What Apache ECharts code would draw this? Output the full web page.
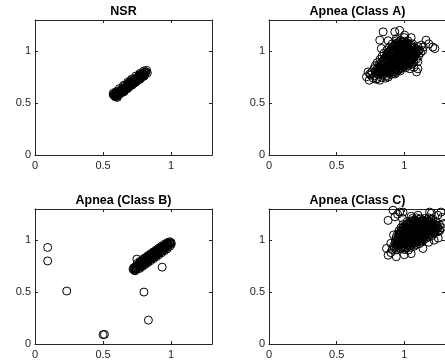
<!DOCTYPE html>
<html>
<head>
<meta charset="utf-8">
<title>Scatter panels</title>
<script src="https://cdn.jsdelivr.net/npm/echarts@6/dist/echarts.min.js"></script>
<style>html,body{margin:0;padding:0;background:#fff}#chart{width:445px;height:360px}</style>
</head>
<body>
<div id="chart"></div>
<script>
// 面板标题
const panelTitles = ["NSR", "Apnea (Class A)", "Apnea (Class B)", "Apnea (Class C)"];
// 刻度
const tickValues = [0, 0.5, 1];
const axisMin = 0;
const axisMax = 1.3;

// NSR：对角窄带
const nsrPoints = [
  [0.58,0.575],[0.585,0.57],[0.59,0.585],[0.595,0.578],[0.60,0.59],[0.60,0.575],[0.605,0.60],
  [0.61,0.588],[0.615,0.60],[0.62,0.61],[0.62,0.595],[0.625,0.605],[0.63,0.62],[0.635,0.61],
  [0.64,0.625],[0.645,0.615],[0.65,0.635],[0.655,0.625],[0.66,0.645],[0.665,0.632],[0.67,0.65],
  [0.675,0.66],[0.68,0.645],[0.685,0.665],[0.69,0.675],[0.695,0.66],[0.70,0.68],[0.705,0.69],
  [0.71,0.675],[0.715,0.695],[0.72,0.705],[0.725,0.69],[0.73,0.71],[0.735,0.72],[0.74,0.705],
  [0.745,0.725],[0.75,0.735],[0.755,0.72],[0.76,0.74],[0.765,0.75],[0.77,0.735],[0.775,0.755],
  [0.78,0.765],[0.79,0.755],[0.795,0.775],[0.80,0.78],[0.81,0.79],[0.815,0.80],[0.66,0.67],
  [0.70,0.715],[0.59,0.60],[0.575,0.58],[0.60,0.565],[0.61,0.575],[0.64,0.64],[0.68,0.68],
  [0.72,0.72],[0.76,0.755],[0.79,0.79],[0.65,0.62],[0.69,0.66],[0.73,0.695],
  // 带宽边缘
  [0.59,0.56],[0.595,0.61],[0.62,0.585],[0.62,0.64],[0.65,0.612],[0.65,0.67],[0.68,0.64],
  [0.68,0.70],[0.71,0.67],[0.71,0.73],[0.74,0.70],[0.74,0.76],[0.77,0.728],[0.77,0.785],
  [0.80,0.758],[0.80,0.81],[0.82,0.815],[0.825,0.79],[0.575,0.595],[0.605,0.555],
  // 中部加密
  [0.605,0.585],[0.615,0.59],[0.625,0.622],[0.635,0.598],[0.645,0.64],[0.655,0.61],
  [0.665,0.655],[0.675,0.64],[0.685,0.69],[0.695,0.672],[0.705,0.705],[0.715,0.682],
  [0.725,0.718],[0.735,0.705],[0.745,0.745],[0.755,0.735],[0.765,0.77],[0.775,0.742],
  [0.785,0.778],[0.785,0.755],[0.805,0.795],[0.805,0.77]
];

// Class A：核心团块 + 外围散点
const classAPoints = [
  [0.77,0.74],[0.80,0.735],[0.83,0.745],[0.86,0.74],[0.88,0.75],
  [0.75,0.77],[0.78,0.765],[0.81,0.775],[0.84,0.77],[0.87,0.765],[0.90,0.775],[0.93,0.78],
  [0.76,0.80],[0.79,0.805],[0.82,0.795],[0.85,0.80],[0.88,0.805],[0.91,0.80],[0.94,0.795],[0.97,0.81],
  [0.775,0.83],[0.80,0.835],[0.83,0.825],[0.86,0.83],[0.89,0.835],[0.92,0.83],[0.95,0.825],[0.98,0.835],[1.01,0.84],
  [0.785,0.86],[0.81,0.865],[0.84,0.855],[0.87,0.86],[0.90,0.865],[0.93,0.86],[0.96,0.855],[0.99,0.865],[1.02,0.86],[1.045,0.87],
  [0.80,0.89],[0.83,0.895],[0.86,0.885],[0.89,0.89],[0.92,0.895],[0.95,0.89],[0.98,0.885],[1.01,0.895],[1.04,0.89],[1.07,0.895],
  [0.82,0.92],[0.85,0.925],[0.88,0.915],[0.91,0.92],[0.94,0.925],[0.97,0.92],[1.00,0.915],[1.03,0.925],[1.06,0.92],[1.09,0.925],
  [0.835,0.95],[0.865,0.955],[0.895,0.945],[0.925,0.95],[0.955,0.955],[0.985,0.95],[1.015,0.945],[1.045,0.955],[1.075,0.95],[1.105,0.955],
  [0.85,0.98],[0.88,0.985],[0.91,0.975],[0.94,0.98],[0.97,0.985],[1.00,0.98],[1.03,0.975],[1.06,0.985],[1.09,0.98],[1.12,0.985],
  [0.87,1.01],[0.90,1.015],[0.93,1.005],[0.96,1.01],[0.99,1.015],[1.02,1.01],[1.05,1.005],[1.08,1.015],[1.11,1.01],[1.135,1.005],
  [0.89,1.04],[0.92,1.045],[0.95,1.035],[0.98,1.04],[1.01,1.045],[1.04,1.04],[1.07,1.035],[1.10,1.045],
  [0.91,1.07],[0.94,1.075],[0.97,1.065],[1.00,1.07],[1.03,1.075],[1.06,1.07],
  [0.94,1.10],[0.97,1.105],[1.00,1.095],[1.025,1.10],
  [0.795,0.785],[0.825,0.79],[0.855,0.785],[0.885,0.79],[0.915,0.785],
  [0.805,0.815],[0.835,0.82],[0.865,0.81],[0.895,0.815],[0.925,0.82],[0.955,0.815],
  [0.815,0.845],[0.845,0.85],[0.875,0.84],[0.905,0.845],[0.935,0.85],[0.965,0.845],[0.995,0.85],
  [0.825,0.875],[0.855,0.88],[0.885,0.87],[0.915,0.875],[0.945,0.88],[0.975,0.875],[1.005,0.87],[1.035,0.88],
  [0.845,0.905],[0.875,0.91],[0.905,0.90],[0.935,0.905],[0.965,0.91],[0.995,0.905],[1.025,0.90],[1.055,0.91],
  [0.86,0.935],[0.89,0.94],[0.92,0.93],[0.95,0.935],[0.98,0.94],[1.01,0.935],[1.04,0.93],[1.07,0.94],
  [0.875,0.965],[0.905,0.97],[0.935,0.96],[0.965,0.965],[0.995,0.97],[1.025,0.965],[1.055,0.96],[1.085,0.97],
  [0.89,0.995],[0.92,1.0],[0.95,0.99],[0.98,0.995],[1.01,1.0],[1.04,0.995],[1.07,0.99],[1.10,1.0],
  [0.91,1.025],[0.94,1.03],[0.97,1.02],[1.0,1.025],[1.03,1.03],[1.06,1.025],[1.09,1.02],
  [0.93,1.055],[0.96,1.06],[0.99,1.05],[1.02,1.055],[1.05,1.06],
  [0.955,1.085],[0.985,1.09],[1.015,1.08],
  // 核心加密
  [0.805,0.80],[0.835,0.80],[0.865,0.805],[0.895,0.80],[0.925,0.80],
  [0.815,0.83],[0.845,0.83],[0.875,0.835],[0.905,0.83],[0.935,0.83],[0.965,0.83],
  [0.825,0.86],[0.855,0.86],[0.885,0.865],[0.915,0.86],[0.945,0.86],[0.975,0.86],[1.005,0.865],
  [0.845,0.89],[0.875,0.89],[0.905,0.895],[0.935,0.89],[0.965,0.89],[0.995,0.89],[1.025,0.89],
  [0.865,0.92],[0.895,0.92],[0.925,0.925],[0.955,0.92],[0.985,0.92],[1.015,0.92],[1.045,0.92],
  [0.88,0.95],[0.91,0.95],[0.94,0.955],[0.97,0.95],[1.0,0.95],[1.03,0.95],[1.06,0.95],
  [0.895,0.98],[0.925,0.98],[0.955,0.985],[0.985,0.98],[1.015,0.98],[1.045,0.98],[1.075,0.98],
  [0.915,1.01],[0.945,1.01],[0.975,1.015],[1.005,1.01],[1.035,1.01],[1.065,1.01],
  [0.935,1.04],[0.965,1.04],[0.995,1.045],[1.025,1.04],[1.055,1.04],
  [0.955,1.07],[0.985,1.07],[1.015,1.07],
  // 外围
  [0.843,1.186],[0.818,1.106],[0.929,1.186],[0.965,1.20],[1.002,1.154],[0.94,1.12],[1.16,1.106],
  [1.21,1.04],[1.225,1.025],[1.125,1.058],[0.83,1.026],[0.732,0.80],[0.72,0.753],[0.74,0.72],
  [0.818,0.72],[1.04,0.83],[1.09,0.80],[1.06,0.88],[1.10,0.90],[1.07,0.845],[1.10,0.83],
  [0.88,1.10],[1.05,1.13],[1.0,1.13],[1.18,1.07],[1.14,1.04],[0.79,0.73],[0.745,0.78]
];

// Class B：主带 + 离群点
const classBPoints = [
  [0.73,0.725],[0.73,0.71],[0.74,0.73],[0.74,0.745],[0.74,0.715],[0.75,0.74],[0.75,0.725],
  [0.76,0.75],[0.76,0.765],[0.76,0.735],[0.77,0.76],[0.77,0.745],[0.77,0.78],
  [0.78,0.775],[0.78,0.755],[0.78,0.79],[0.79,0.78],[0.79,0.765],[0.79,0.80],
  [0.80,0.79],[0.80,0.775],[0.80,0.81],[0.81,0.80],[0.81,0.785],[0.81,0.82],
  [0.82,0.81],[0.82,0.79],[0.82,0.83],[0.83,0.82],[0.83,0.80],[0.83,0.84],
  [0.84,0.83],[0.84,0.81],[0.84,0.845],[0.85,0.835],[0.85,0.82],[0.85,0.855],
  [0.86,0.845],[0.86,0.83],[0.86,0.865],[0.87,0.855],[0.87,0.84],[0.87,0.875],
  [0.88,0.865],[0.88,0.85],[0.88,0.885],[0.89,0.875],[0.89,0.86],[0.89,0.89],
  [0.90,0.885],[0.90,0.87],[0.90,0.90],[0.91,0.89],[0.91,0.875],[0.91,0.91],
  [0.92,0.90],[0.92,0.885],[0.92,0.92],[0.93,0.91],[0.93,0.895],[0.93,0.93],
  [0.94,0.92],[0.94,0.905],[0.94,0.935],[0.95,0.93],[0.95,0.915],[0.95,0.945],
  [0.96,0.94],[0.96,0.925],[0.96,0.955],[0.97,0.945],[0.97,0.96],[0.98,0.955],[0.98,0.97],
  [0.99,0.965],[0.99,0.975],[1.00,0.975],
  [0.72,0.72],[0.725,0.735],[0.735,0.705],[0.748,0.817],
  // 带宽边缘
  [0.75,0.775],[0.77,0.795],[0.77,0.728],[0.79,0.815],[0.79,0.748],[0.81,0.832],[0.81,0.766],
  [0.83,0.852],[0.83,0.785],[0.85,0.87],[0.85,0.803],[0.87,0.888],[0.87,0.822],[0.89,0.905],
  [0.89,0.84],[0.91,0.925],[0.91,0.86],[0.93,0.943],[0.93,0.878],[0.95,0.96],[0.95,0.897],
  [0.97,0.975],[0.97,0.915],[0.99,0.985],[0.99,0.94],[1.0,0.96],
  // 离群点
  [0.093,0.93],[0.093,0.80],[0.233,0.51],[0.50,0.09],[0.51,0.092],[0.80,0.50],[0.833,0.23],[0.934,0.74]
];

// Class C：右上团块 + 外围散点
const classCPoints = [
  [0.91,0.91],[0.94,0.905],[0.97,0.915],[1.00,0.91],[1.03,0.905],
  [0.92,0.94],[0.95,0.945],[0.98,0.935],[1.01,0.94],[1.04,0.945],[1.07,0.94],
  [0.93,0.97],[0.96,0.975],[0.99,0.965],[1.02,0.97],[1.05,0.975],[1.08,0.97],[1.11,0.965],
  [0.935,1.0],[0.965,1.005],[0.995,0.995],[1.025,1.0],[1.055,1.005],[1.085,1.0],[1.115,0.995],[1.145,1.005],
  [0.94,1.03],[0.97,1.035],[1.0,1.025],[1.03,1.03],[1.06,1.035],[1.09,1.03],[1.12,1.025],[1.15,1.035],[1.18,1.03],
  [0.95,1.06],[0.98,1.065],[1.01,1.055],[1.04,1.06],[1.07,1.065],[1.10,1.06],[1.13,1.055],[1.16,1.065],[1.19,1.06],[1.22,1.065],
  [0.96,1.09],[0.99,1.095],[1.02,1.085],[1.05,1.09],[1.08,1.095],[1.11,1.09],[1.14,1.085],[1.17,1.095],[1.20,1.09],[1.23,1.085],[1.26,1.09],
  [0.975,1.12],[1.005,1.125],[1.035,1.115],[1.065,1.12],[1.095,1.125],[1.125,1.12],[1.155,1.115],[1.185,1.125],[1.215,1.12],[1.245,1.115],[1.275,1.12],
  [0.99,1.15],[1.02,1.155],[1.05,1.145],[1.08,1.15],[1.11,1.155],[1.14,1.15],[1.17,1.145],[1.20,1.155],[1.23,1.15],[1.26,1.145],
  [1.02,1.18],[1.05,1.185],[1.08,1.175],[1.11,1.18],[1.14,1.185],[1.17,1.18],[1.20,1.175],[1.23,1.18],
  [1.06,1.21],[1.09,1.215],[1.12,1.205],[1.15,1.21],[1.18,1.215],[1.21,1.205],
  [0.925,0.925],[0.955,0.93],[0.985,0.92],[1.015,0.925],[1.045,0.93],
  [0.935,0.955],[0.965,0.96],[0.995,0.95],[1.025,0.955],[1.055,0.96],[1.085,0.955],
  [0.945,0.985],[0.975,0.99],[1.005,0.98],[1.035,0.985],[1.065,0.99],[1.095,0.985],[1.125,0.98],
  [0.95,1.015],[0.98,1.02],[1.01,1.01],[1.04,1.015],[1.07,1.02],[1.10,1.015],[1.13,1.01],[1.16,1.02],
  [0.965,1.045],[0.995,1.05],[1.025,1.04],[1.055,1.045],[1.085,1.05],[1.115,1.045],[1.145,1.04],[1.175,1.05],[1.205,1.045],
  [0.975,1.075],[1.005,1.08],[1.035,1.07],[1.065,1.075],[1.095,1.08],[1.125,1.075],[1.155,1.07],[1.185,1.08],[1.215,1.075],[1.245,1.08],
  [0.99,1.105],[1.02,1.11],[1.05,1.10],[1.08,1.105],[1.11,1.11],[1.14,1.105],[1.17,1.10],[1.20,1.11],[1.23,1.105],[1.26,1.10],
  [1.005,1.135],[1.035,1.14],[1.065,1.13],[1.095,1.135],[1.125,1.14],[1.155,1.135],[1.185,1.13],[1.215,1.14],[1.245,1.135],
  [1.035,1.165],[1.065,1.17],[1.095,1.16],[1.125,1.165],[1.155,1.17],[1.185,1.165],[1.215,1.16],
  [1.075,1.195],[1.105,1.20],[1.135,1.19],[1.165,1.195],[1.195,1.20],
  // 核心加密
  [0.945,0.97],[0.975,0.97],[1.005,0.97],[1.035,0.97],[1.065,0.97],
  [0.95,1.0],[0.98,1.0],[1.01,1.0],[1.04,1.0],[1.07,1.0],[1.10,1.0],
  [0.955,1.03],[0.985,1.03],[1.015,1.03],[1.045,1.03],[1.075,1.03],[1.105,1.03],[1.135,1.03],
  [0.965,1.06],[0.995,1.06],[1.025,1.06],[1.055,1.06],[1.085,1.06],[1.115,1.06],[1.145,1.06],[1.175,1.06],
  [0.975,1.09],[1.005,1.09],[1.035,1.09],[1.065,1.09],[1.095,1.09],[1.125,1.09],[1.155,1.09],[1.185,1.09],[1.215,1.09],
  [0.99,1.12],[1.02,1.12],[1.05,1.12],[1.08,1.12],[1.11,1.12],[1.14,1.12],[1.17,1.12],[1.20,1.12],[1.23,1.12],
  [1.035,1.15],[1.065,1.15],[1.095,1.15],[1.125,1.15],[1.155,1.15],[1.185,1.15],[1.215,1.15],
  [1.065,1.18],[1.095,1.18],[1.125,1.18],[1.155,1.18],[1.185,1.18],
  // 外围
  [0.916,1.288],[0.93,1.225],[0.88,1.19],[0.965,1.27],[0.99,1.27],[0.95,1.25],[0.985,1.21],
  [1.186,1.27],[1.247,1.24],[1.28,1.22],[1.29,1.16],[0.868,0.92],[0.88,0.855],[0.94,0.84],
  [0.90,0.88],[1.05,0.87],[1.0,0.86],[1.137,0.92],[1.18,0.98],[1.25,1.02],[1.22,1.0],
  [0.92,1.05],[0.90,0.97],[1.10,1.24],[1.05,1.23],[1.2,1.26],[1.27,1.27]
];

const panelData = [nsrPoints, classAPoints, classBPoints, classCPoints];

// 布局（像素）
const gridRects = [
  { left: 35, top: 20, width: 177, height: 135 },
  { left: 269, top: 20, width: 177, height: 135 },
  { left: 35, top: 209, width: 177, height: 135 },
  { left: 269, top: 209, width: 177, height: 135 }
];

const font = "Liberation Sans, Arial, Helvetica, sans-serif";
const axisColor = "#262626";

function makeAxis(i, position, showLabel) {
  return {
    type: "value",
    gridIndex: i,
    position: position,
    min: axisMin,
    max: axisMax,
    axisLine: { show: true, onZero: false, lineStyle: { color: axisColor, width: 1 } },
    axisTick: { show: true, inside: true, length: 3, customValues: tickValues, lineStyle: { color: axisColor } },
    axisLabel: {
      show: showLabel, customValues: tickValues, color: axisColor,
      fontSize: 11, fontFamily: font, margin: position === "bottom" ? 5 : 4
    },
    splitLine: { show: false }
  };
}

const grids = [], xAxes = [], yAxes = [], series = [], graphics = [];
gridRects.forEach((r, i) => {
  grids.push(Object.assign({ containLabel: false }, r));
  xAxes.push(makeAxis(i, "bottom", true));
  xAxes.push(makeAxis(i, "top", false));
  yAxes.push(makeAxis(i, "left", true));
  yAxes.push(makeAxis(i, "right", false));
  series.push({
    type: "scatter",
    xAxisIndex: i * 2,
    yAxisIndex: i * 2,
    data: panelData[i],
    symbol: "circle",
    symbolSize: 8,
    itemStyle: { color: "rgba(0,0,0,0)", borderColor: "#000", borderWidth: 1, opacity: 1 },
    emphasis: { disabled: true },
    silent: true
  });
  graphics.push({
    type: "text",
    x: r.left + r.width / 2,
    y: r.top - 8,
    style: {
      text: panelTitles[i], fill: "#000", align: "center", verticalAlign: "middle",
      font: "bold 12.5px " + font
    }
  });
});

const chart = echarts.init(document.getElementById("chart"), null, { renderer: "canvas" });
chart.setOption({
  animation: false,
  backgroundColor: "#fff",
  grid: grids,
  xAxis: xAxes,
  yAxis: yAxes,
  series: series,
  graphic: graphics
});
</script>
</body>
</html>
